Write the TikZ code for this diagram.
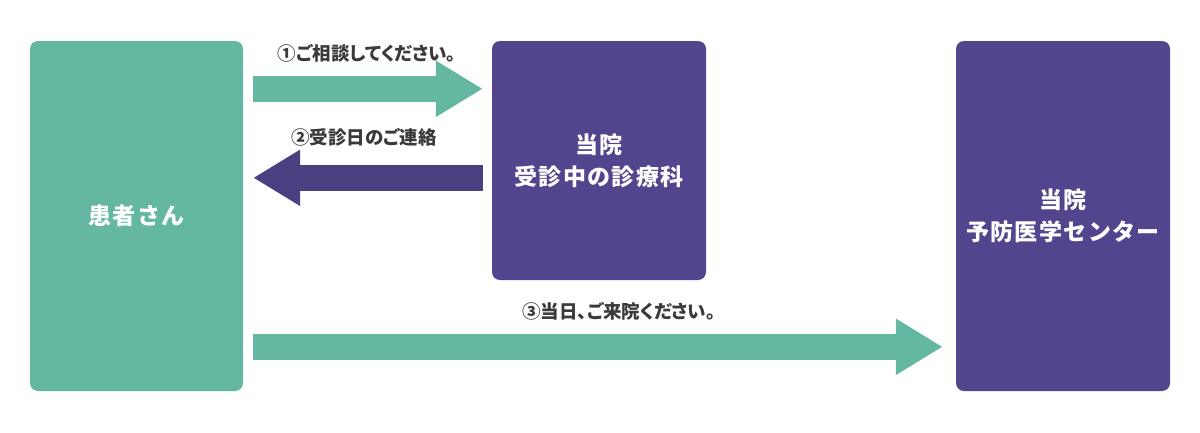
\documentclass[tikz,border=0pt]{standalone}
\usepackage{fontspec}
\setmainfont{Noto Sans CJK JP}
\newfontfamily\jp{Noto Sans CJK JP}[RawFeature=+palt]
\newfontfamily\jpsp{Noto Sans CJK JP}[LetterSpace=6]
\usetikzlibrary{arrows.meta,calc}
\definecolor{teal1}{HTML}{64B8A2}
\definecolor{purp1}{HTML}{52458E}
\definecolor{purp2}{HTML}{4A3F80}
\definecolor{lbl}{HTML}{3A3A3A}
\tikzset{
  box/.style={rounded corners=8pt, inner sep=0pt, align=center, text=white,
    font=\jpsp\bfseries\fontsize{23}{32}\selectfont},
  fat/.style={line width=26pt, -{Triangle[length=47pt,width=53pt]}},
  lab/.style={text=lbl, inner sep=0pt, font=\jp\bfseries\fontsize{18.5}{20}\selectfont}
}
\begin{document}
\begin{tikzpicture}[x=1pt,y=-1pt]
\useasboundingbox (0,0) rectangle (1200,432);
\node[box, fill=teal1, minimum width=213pt, minimum height=350pt] (pat) at (136.5,216) {患者さん};
\node[box, fill=purp1, minimum width=214pt, minimum height=239pt] (dep) at (599,160.5) {当院\\受診中の診療科};
\node[box, fill=purp1, minimum width=214pt, minimum height=350pt] (ctr) at (1063,216) {当院\\予防医学センター};
\coordinate (a1s) at ($(pat.north east)+(10,48)$);
\coordinate (a1e) at ($(dep.north west)+(-9,48)$);
\coordinate (a2s) at ($(dep.north west)+(-9,137)$);
\coordinate (a2e) at ($(pat.north east)+(10,137)$);
\coordinate (a3s) at ($(pat.north east)+(10,306)$);
\coordinate (a3e) at ($(ctr.north west)+(-13,306)$);
\draw[fat, teal1] (a1s) -- (a1e);
\draw[fat, purp2] (a2s) -- (a2e);
\draw[fat, teal1] (a3s) -- (a3e);
\node[lab] (l1) at (367,53) {①ご相談してください。};
\node[lab] (l2) at (364,137) {②受診日のご連絡};
\node[lab] (l3) at (619,311) {③当日、ご来院ください。};
\end{tikzpicture}
\end{document}
